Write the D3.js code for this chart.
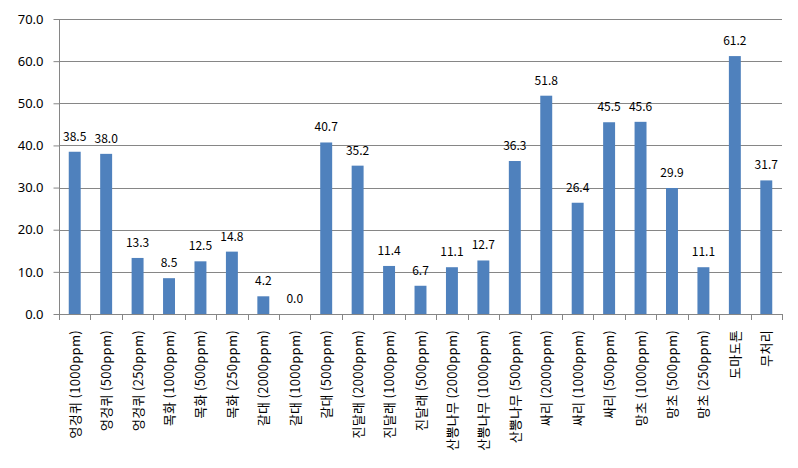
<!DOCTYPE html>
<html>
<head>
<meta charset="utf-8">
<script src="https://cdn.jsdelivr.net/npm/d3@7"></script>
<style>
	body { margin: 0; background: #fff; }
	text { font-family: "Noto Sans CJK KR", "Noto Sans", sans-serif; fill: #000; }
</style>
</head>
<body>
<svg id="chart" width="798" height="468"></svg>
<script>
// Data
var categories = ['엉겅퀴 (1000ppm)', '엉겅퀴 (500ppm)', '엉겅퀴 (250ppm)', '목화 (1000ppm)', '목화 (500ppm)',
	'목화 (250ppm)', '갈대 (2000ppm)', '갈대 (1000ppm)', '갈대 (500ppm)', '진달래 (2000ppm)', '진달래 (1000ppm)',
	'진달래 (500ppm)', '산뽕나무 (2000ppm)', '산뽕나무 (1000ppm)', '산뽕나무 (500ppm)', '싸리 (2000ppm)',
	'싸리 (1000ppm)', '싸리 (500ppm)', '망초 (1000ppm)', '망초 (500ppm)', '망초 (250ppm)', '도마도톤', '무처리'];
var values = [38.5, 38.0, 13.3, 8.5, 12.5, 14.8, 4.2, 0.0, 40.7, 35.2, 11.4, 6.7, 11.1, 12.7, 36.3, 51.8,
	26.4, 45.5, 45.6, 29.9, 11.1, 61.2, 31.7];
var yTicks = [0, 10, 20, 30, 40, 50, 60, 70];

var svg = d3.select('svg#chart');
var pLeft = 59, pRight = 782, pTop = 19, pBottom = 314;

var xScale = d3.scaleBand()
	.domain(categories)
	.range([pLeft, pRight])
	.paddingInner(0.62)
	.paddingOuter(0.31);

var yScale = d3.scaleLinear()
	.domain([0, 70])
	.range([pBottom, pTop]);

// gridlines
svg.append('g')
	.selectAll('line')
	.data(yTicks.slice(1))
	.enter()
	.append('line')
	.attr('x1', pLeft)
	.attr('x2', pRight)
	.attr('y1', function (d) { return Math.round(yScale(d)) + 0.5; })
	.attr('y2', function (d) { return Math.round(yScale(d)) + 0.5; })
	.style('stroke', '#868686')
	.style('stroke-width', 1);

// bars
svg.append('g')
	.selectAll('rect')
	.data(values)
	.enter()
	.append('rect')
	.attr('x', function (d, i) { return xScale(categories[i]); })
	.attr('y', function (d) { return yScale(d); })
	.attr('width', xScale.bandwidth())
	.attr('height', function (d) { return pBottom - yScale(d); })
	.style('fill', '#4F81BD');

// value labels
svg.append('g')
	.selectAll('text')
	.data(values)
	.enter()
	.append('text')
	.attr('x', function (d, i) { return xScale(categories[i]) + xScale.bandwidth() / 2; })
	.attr('y', function (d) { return yScale(d) - 11; })
	.attr('text-anchor', 'middle')
	.style('font-size', '12px')
	.text(function (d) { return d.toFixed(1); });

// y axis
var yAxis = d3.axisLeft(yScale)
	.tickValues(yTicks)
	.tickFormat(function (d) { return d.toFixed(1); })
	.tickSize(6)
	.tickPadding(10);

var gy = svg.append('g')
	.attr('transform', 'translate(' + (pLeft + 0.5) + ',0)')
	.call(yAxis);
gy.select('.domain').attr('d', 'M0,' + pTop + 'V' + (pBottom + 0.5)).style('stroke', '#868686');
gy.selectAll('.tick line').style('stroke', '#868686');
gy.selectAll('.tick text')
	.style('font-size', '13px')
	.style('font-family', '"Noto Sans", sans-serif')
	.attr('fill', '#000');

// x axis line and ticks between categories
var step = xScale.step();
var gx = svg.append('g');
gx.append('line')
	.attr('x1', pLeft)
	.attr('x2', pRight)
	.attr('y1', pBottom + 0.5)
	.attr('y2', pBottom + 0.5)
	.style('stroke', '#868686');
gx.selectAll('line.tk')
	.data(d3.range(categories.length + 1))
	.enter()
	.append('line')
	.attr('class', 'tk')
	.attr('x1', function (i) { return Math.round(pLeft + i * step) + 0.5; })
	.attr('x2', function (i) { return Math.round(pLeft + i * step) + 0.5; })
	.attr('y1', pBottom)
	.attr('y2', pBottom + 6)
	.style('stroke', '#868686');

// category labels, rotated
gx.selectAll('text')
	.data(categories)
	.enter()
	.append('text')
	.attr('transform', function (d) {
		return 'translate(' + (xScale(d) + xScale.bandwidth() / 2 + 5) + ',' + (pBottom + 16) + ') rotate(-90)';
	})
	.attr('text-anchor', 'end')
	.style('font-size', '13px')
	.style('letter-spacing', '0.3px')
	.text(function (d) { return d; });
</script>
</body>
</html>
